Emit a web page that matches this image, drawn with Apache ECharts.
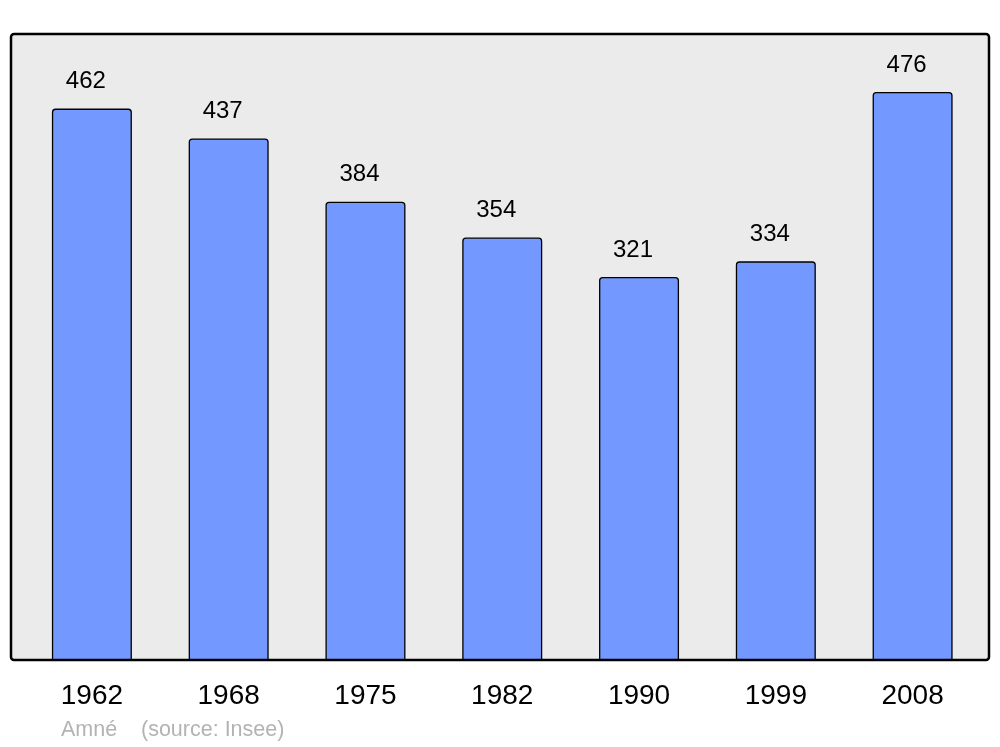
<!DOCTYPE html>
<html><head><meta charset="utf-8">
<script src="https://cdn.jsdelivr.net/npm/echarts@6/dist/echarts.min.js"></script>
<style>html,body{margin:0;padding:0;background:#fff}#c{width:1000px;height:747px}</style>
</head><body><div id="c"></div>
<script>
const categories = ['1962','1968','1975','1982','1990','1999','2008'];
const population = [462,437,384,354,321,334,476];
const footLeft = 'Amné';
const footRight = '(source: Insee)';

const FONT = '"Liberation Sans", Arial, sans-serif';
const chart = echarts.init(document.getElementById('c'), null, {renderer:'canvas'});
chart.setOption({
  animation:false,
  backgroundColor:'#ffffff',
  grid:{left:23.5,right:19,top:34,bottom:87,containLabel:false},
  graphic:[
    {type:'rect',z:-10,shape:{x:11,y:34,width:978,height:626,r:3},style:{fill:'#ebebeb',stroke:'#000',lineWidth:2.5}},
    {type:'text',x:61,y:730,style:{text:footLeft,fill:'#b3b3b3',font:'21.5px ' + FONT,textVerticalAlign:'middle',verticalAlign:'middle'}},
    {type:'text',x:141,y:730,style:{text:footRight,fill:'#b3b3b3',font:'21.5px ' + FONT,textVerticalAlign:'middle',verticalAlign:'middle'}}
  ],
  xAxis:{type:'category',data:categories,
    axisLine:{show:false},axisTick:{show:false},
    axisLabel:{margin:22,color:'#000',fontSize:28,fontFamily:FONT}},
  yAxis:{type:'value',min:0,max:524.5,show:false,splitLine:{show:false}},
  series:[{type:'bar',data:population,barWidth:80,
    itemStyle:{color:'#7398ff',borderColor:'#000',borderWidth:1.3,borderRadius:[3,3,0,0]},
    label:{show:true,position:'top',distance:15,offset:[-6,0],color:'#000',fontSize:24,fontFamily:FONT}}]
});
</script></body></html>
